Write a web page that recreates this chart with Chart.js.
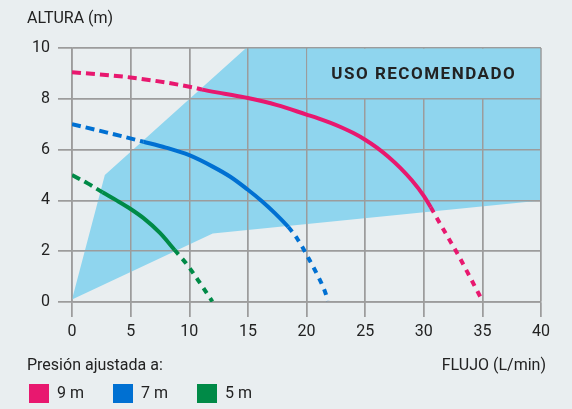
<!DOCTYPE html>
<html lang="es">
<head>
<meta charset="utf-8">
<script src="https://cdn.jsdelivr.net/npm/chart.js@4.4.1/dist/chart.umd.min.js"></script>
<style>
  html, body { margin: 0; padding: 0; background: #e9eef0; }
</style>
</head>
<body>
<canvas id="grafico" width="572" height="409"></canvas>
<script>
// curvas de la bomba segun presion ajustada
const presiones = ['9 m', '7 m', '5 m']
const colores = ['#e8186f', '#0070d2', '#008a47']

const flujo9 = [0, 5, 10.5, 11.1, 13, 15, 17.5, 20, 21, 22, 23, 24, 25, 26, 27, 28, 29, 30, 30.6, 31, 32, 33, 34, 35]
const altura9 = [9.05, 8.84, 8.43, 8.36, 8.2, 8.03, 7.75, 7.38, 7.23, 7.06, 6.87, 6.65, 6.39, 6.08, 5.71, 5.28, 4.78, 4.18, 3.73, 3.4, 2.6, 1.8, 0.93, 0.05]
const tramo9 = [11.1, 30.6]

const flujo7 = [0, 3, 6.1, 8, 10, 12, 13.5, 15, 16.2, 17.3, 18.45, 19.2, 20.2, 21, 21.5, 21.85]
const altura7 = [7.0, 6.67, 6.31, 6.08, 5.78, 5.33, 4.93, 4.42, 3.97, 3.5, 2.95, 2.5, 1.7, 1.0, 0.5, 0.05]
const tramo7 = [6.1, 18.45]

const flujo5 = [0, 1.3, 2.6, 3.8, 5, 6.1, 7.5, 8.75, 9.8, 10.9, 11.97]
const altura5 = [5.0, 4.68, 4.32, 4.0, 3.66, 3.3, 2.72, 2.05, 1.48, 0.76, 0.02]
const tramo5 = [2.6, 8.75]

// zona de uso recomendado (poligono cerrado)
const zonaFlujo = [0, 2.8, 14.85, 40, 40, 12, 0]
const zonaAltura = [0.1, 5.0, 10, 10, 4, 2.7, 0.1]

const ticksFlujo = [0, 40, 5]
const ticksAltura = [0, 10, 2]

const GRIS = '#9c9c9c'
const CELESTE = '#8fd5ee'
const TEXTO = '#222'

function puntos(xs, ys) {
    return xs.map((x, i) => ({x: x, y: ys[i]}))
}

function curva(i, xs, ys, tramo) {
    return {
        label: presiones[i],
        data: puntos(xs, ys),
        borderColor: colores[i],
        backgroundColor: colores[i],
        borderWidth: 4,
        pointRadius: 0,
        cubicInterpolationMode: 'monotone',
        fill: false,
        segment: {
            borderDash: c => {
                if (c.p1.parsed.x <= tramo[0]) return [9, 5]
                if (c.p0.parsed.x >= tramo[1]) return [6, 6]
                return undefined
            }
        }
    }
}

const datasets = [
    curva(0, flujo9, altura9, tramo9),
    curva(1, flujo7, altura7, tramo7),
    curva(2, flujo5, altura5, tramo5),
    {
        data: puntos(zonaFlujo, zonaAltura),
        backgroundColor: CELESTE,
        borderWidth: 0,
        pointRadius: 0,
        tension: 0,
        fill: 'shape'
    }
]
const iZona = datasets.length - 1

const textos = {
    id: 'textos',
    afterDatasetDraw(chart, args) {
        if (args.index !== iZona) return
        let x = chart.scales.x
        let y = chart.scales.y
        // la rejilla queda por encima de la zona celeste
        x.drawGrid(chart.chartArea)
        y.drawGrid(chart.chartArea)

        let ctx = chart.ctx
        let l = x.getPixelForValue(20) + 0.75
        let r = x.getPixelForValue(40) - 0.75
        let t = y.getPixelForValue(10) + 0.75
        let b = y.getPixelForValue(8) - 0.75
        ctx.save()
        ctx.fillStyle = CELESTE
        ctx.fillRect(l, t, r - l, b - t)
        ctx.fillStyle = TEXTO
        ctx.font = 'bold 17px Roboto'
        ctx.letterSpacing = '1.5px'
        ctx.textAlign = 'center'
        ctx.textBaseline = 'middle'
        ctx.fillText('USO RECOMENDADO', (l + r) / 2, (t + b) / 2 + 1)
        ctx.restore()
    },
    afterDraw(chart) {
        let ctx = chart.ctx
        ctx.save()
        ctx.fillStyle = TEXTO
        ctx.font = '16px Roboto'
        ctx.textBaseline = 'alphabetic'
        ctx.textAlign = 'left'
        ctx.fillText('ALTURA (m)', 27, 23)
        ctx.fillText('Presión ajustada a:', 27, 370)
        ctx.textAlign = 'right'
        ctx.fillText('FLUJO (L/min)', 546, 370)
        ctx.restore()
    }
}

Chart.defaults.font.family = 'Roboto'
Chart.defaults.font.size = 16
Chart.defaults.color = TEXTO

new Chart(document.getElementById('grafico'), {
    type: 'line',
    data: {datasets: datasets},
    plugins: [textos],
    options: {
        responsive: false,
        animation: false,
        layout: {padding: {left: 0, right: 31, top: 48, bottom: -4}},
        scales: {
            x: {
                type: 'linear',
                min: ticksFlujo[0],
                max: ticksFlujo[1],
                afterFit: s => { s.height = 53 },
                ticks: {stepSize: ticksFlujo[2], padding: 5, color: TEXTO},
                grid: {color: GRIS, lineWidth: 1.5, tickLength: 15},
                border: {color: GRIS, width: 1.5}
            },
            y: {
                min: ticksAltura[0],
                max: ticksAltura[1],
                afterFit: s => { s.width = 72 },
                ticks: {stepSize: ticksAltura[2], padding: 8, color: TEXTO},
                grid: {color: GRIS, lineWidth: 1.5, tickLength: 14},
                border: {color: GRIS, width: 1.5}
            }
        },
        plugins: {
            tooltip: {enabled: false},
            legend: {
                position: 'bottom',
                align: 'start',
                labels: {
                    boxWidth: 20,
                    boxHeight: 19,
                    padding: 29,
                    color: TEXTO,
                    font: {size: 16},
                    generateLabels: chart => Chart.defaults.plugins.legend.labels.generateLabels(chart)
                        .filter(it => chart.data.datasets[it.datasetIndex].label)
                        .map(it => Object.assign(it, {lineWidth: 0}))
                }
            }
        }
    }
})
</script>
</body>
</html>
